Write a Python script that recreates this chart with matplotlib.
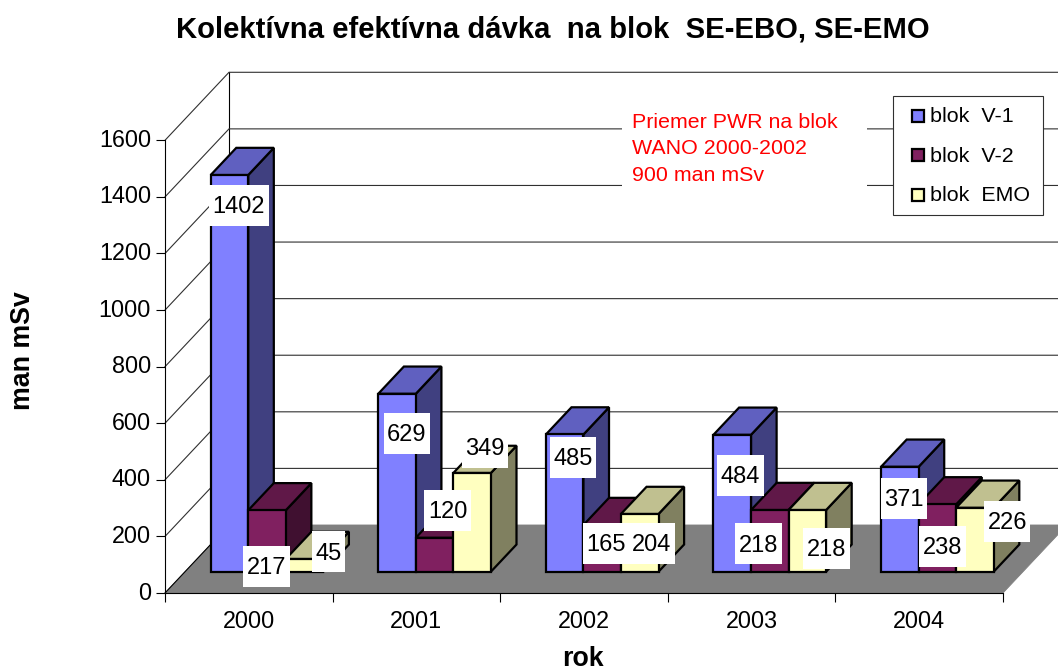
import matplotlib
matplotlib.use('Agg')
import matplotlib.pyplot as plt
from matplotlib.patches import Polygon, Rectangle
from matplotlib.transforms import Affine2D, ScaledTranslation

plt.rcParams['font.family'] = ['Liberation Sans', 'DejaVu Sans']

years = ['2000', '2001', '2002', '2003', '2004']
series_names = ['blok  V-1', 'blok  V-2', 'blok  EMO']
v1 = [1402, 629, 485, 484, 371]
v2 = [217, 120, 165, 218, 238]
emo = [45, 349, 204, 218, 226]
y_ticks = [0, 200, 400, 600, 800, 1000, 1200, 1400, 1600]
note = 'Priemer PWR na blok\nWANO 2000-2002\n900 man mSv'

# front, top, side colours per series
colors = [('#8080FF', '#6060C0', '#404080'),
          ('#802060', '#601848', '#401030'),
          ('#FFFFC0', '#C0C090', '#808060')]

W, H = 1058, 670
fig = plt.figure(figsize=(W / 100, H / 100), dpi=100)
# axes is the front plane of the 3d box, everything else is pushed back from it
ax = fig.add_axes([165 / W, 1 - 593 / H, 838 / W, 452.7 / H])
ax.set_xlim(0, 5)
ax.set_ylim(0, 1600)
ax.patch.set_visible(False)

DX = 64 / 167.6    # category units for full depth
DY = 68 / 0.2829   # value units for full depth
px = Affine2D().scale(1, -1).translate(0, H)  # top-left pixel coords


def proj(x, v, d):
    return (x + DX * d, v + DY * d)


def face(points, fc, ec='black', lw=1.6, z=3):
    ax.add_patch(Polygon(points, closed=True, facecolor=fc, edgecolor=ec, linewidth=lw,
                         joinstyle='miter', clip_on=False, zorder=z))


# floor and walls
face([proj(0, 0, 0), proj(5, 0, 0), proj(5, 0, 1), proj(0, 0, 1)], '#808080', ec='#808080', lw=0.6, z=1)
ax.plot(*zip(proj(0, 0, 0), proj(0, 0, 1)), color='black', lw=0.8, clip_on=False, zorder=1.5)
ax.plot(*zip(proj(0, 0, 1), proj(0, 1600, 1)), color='black', lw=0.8, clip_on=False, zorder=1.5)
for t in y_ticks[1:]:
    ax.plot(*zip(proj(0, t, 0), proj(0, t, 1), proj(5, t, 1)), color='#303030', lw=0.8,
            clip_on=False, zorder=1.5, solid_joinstyle='miter')

# bars
bar_w = 0.224
gap = 0.153
d0, d1 = 0.313, 0.713
for i in range(len(years)):
    for j, vals in enumerate([v1, v2, emo]):
        x0 = i + gap + j * bar_w
        x1 = x0 + bar_w
        v = vals[i]
        front, top, side = colors[j]
        face([proj(x1, 0, d0), proj(x1, 0, d1), proj(x1, v, d1), proj(x1, v, d0)], side)
        face([proj(x0, v, d0), proj(x1, v, d0), proj(x1, v, d1), proj(x0, v, d1)], top)
        face([proj(x0, 0, d0), proj(x1, 0, d0), proj(x1, v, d0), proj(x0, v, d0)], front)

# axis
for s in ['top', 'right']:
    ax.spines[s].set_visible(False)
for s in ['left', 'bottom']:
    ax.spines[s].set_linewidth(0.8)
    ax.spines[s].set_zorder(2)
ax.set_yticks(y_ticks)
ax.set_xticks(range(6))
ax.set_xticklabels([])
ax.set_xticks([i + 0.5 for i in range(5)], minor=True)
ax.set_xticklabels(years, minor=True)
ax.tick_params(axis='x', which='major', length=6.5, width=0.8)
ax.tick_params(axis='x', which='minor', length=0, pad=12, labelsize=16.8)
ax.tick_params(axis='y', length=6.5, width=0.8, pad=3.5, labelsize=16.8)
# labels sit a bit above their ticks in the original
up = ScaledTranslation(0, 2.5 / 100, fig.dpi_scale_trans)
for lab in ax.get_yticklabels():
    lab.set_transform(lab.get_transform() + up)

# value labels, white boxes sit by hand like in the original
label_centers = [[(239, 205), (266.5, 566.5), (328.5, 551.5)],
                 [(407, 433), (447.5, 510.5), (485, 447)],
                 [(573, 457), (606, 543), (652, 543)],
                 [(740.6, 475), (758.5, 543.5), (826.5, 548)],
                 [(903.7, 498), (942.5, 546), (1007.3, 521)]]
for i in range(len(years)):
    for j, vals in enumerate([v1, v2, emo]):
        cx, cy = label_centers[i][j]
        txt = str(vals[i])
        bw = 13.1 * len(txt) + 7
        ax.add_patch(Rectangle((cx - bw / 2, cy - 20.5), bw, 41, transform=px, facecolor='white',
                               edgecolor='none', clip_on=False, zorder=5))
        ax.text(cx, cy - 0.5, txt, transform=px, ha='center', va='center_baseline', fontsize=17,
                clip_on=False, zorder=6)

# red note
ax.add_patch(Rectangle((622, 105), 245, 90, transform=px, facecolor='white', edgecolor='none',
                       clip_on=False, zorder=4))
ax.text(632, 149, note, transform=px, color='#FF0000', ha='left', va='center', fontsize=15.4,
        linespacing=1.47, clip_on=False, zorder=6)

# legend
ax.add_patch(Rectangle((893, 96), 150, 119, transform=px, facecolor='white', edgecolor='#303030',
                       linewidth=0.8, clip_on=False, zorder=5))
for j, name in enumerate(series_names):
    yc = 115.5 + j * 39.5
    ax.add_patch(Rectangle((912, yc - 6), 11.5, 12, transform=px, facecolor=colors[j][0], edgecolor='black',
                           linewidth=1.6, clip_on=False, zorder=6))
    ax.text(930, yc + 1, name, transform=px, ha='left', va='center', fontsize=15.4, clip_on=False, zorder=6)

# titles
fig.text(553 / W, 1 - 29 / H, 'Kolektívna efektívna dávka  na blok  SE-EBO, SE-EMO', ha='center', va='center',
         fontsize=21.1, fontweight='bold')
fig.text(23 / W, 1 - 351 / H, 'man mSv', rotation=90, ha='center', va='center', fontsize=19.3, fontweight='bold')
fig.text(583 / W, 1 - 659 / H, 'rok', ha='center', va='center', fontsize=19.3, fontweight='bold')

fig.savefig('out.png', dpi=100)
